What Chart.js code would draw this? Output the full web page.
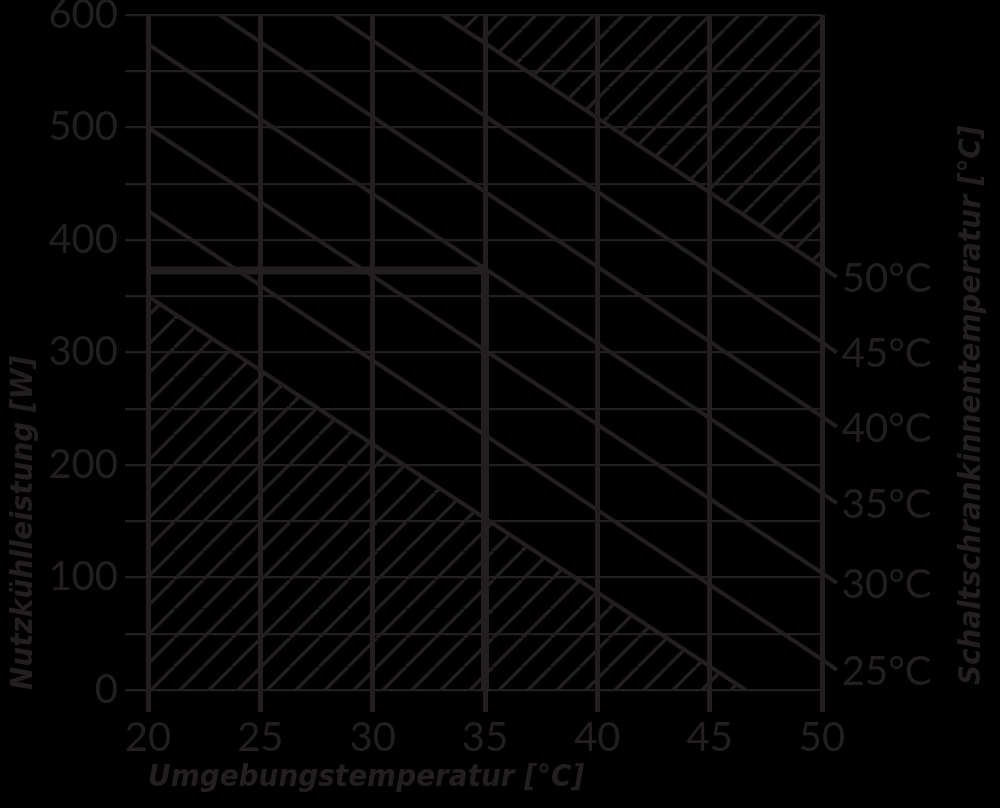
<!DOCTYPE html>
<html><head><meta charset="utf-8">
<script src="https://cdn.jsdelivr.net/npm/chart.js@4/dist/chart.umd.min.js"></script>
<style>html,body{margin:0;padding:0;background:#000;}canvas{display:block}</style>
</head><body>
<canvas id="c" width="1000" height="808"></canvas>
<script>
const INK = '#231f20';
// Schaltschrankinnentemperatur curves
const curveLabels = ['25°C', '30°C', '35°C', '40°C', '45°C', '50°C'];
const curveStartT = [20, 20, 20, 23.2, 28.3, 33.1];
const curveStartW = [426, 500, 574, 600, 600, 600];
const curveAxisW = [27, 104, 175, 243, 309, 376];      // at 50 °C ambient
const leaderT = 50.66;                                 // end of leader stub
const curveLeaderW = [18, 95, 166, 234, 300, 367];
// lower limit (hatched region below)
const lowerLimitT = [20, 46.6];
const lowerLimitW = [350, 0];
// reading example
const exampleT = 35;
const exampleW = 373;
// ticks
const xTicks = [20, 25, 30, 35, 40, 45, 50];
const yGrid = [0, 50, 100, 150, 200, 250, 300, 350, 400, 450, 500, 550, 600];
const yLabels = [0, 100, 200, 300, 400, 500, 600];

const canvas = document.getElementById('c');
const ctx = canvas.getContext('2d');

function makeHatch() {
  const s = 29;
  const t = document.createElement('canvas');
  t.width = s; t.height = s;
  const g = t.getContext('2d');
  g.strokeStyle = INK;
  g.lineWidth = 3.4;
  g.beginPath();
  for (const o of [-s, 0, s]) { g.moveTo(o, s); g.lineTo(o + s, 0); }
  g.stroke();
  return ctx.createPattern(t, 'repeat');
}
const hatch = makeHatch();

const datasets = [];
curveLabels.forEach((lab, i) => {
  datasets.push({
    label: lab,
    data: [
      {x: curveStartT[i], y: curveStartW[i]},
      {x: 50, y: curveAxisW[i]}
    ],
    borderColor: INK, borderWidth: 4.2, pointRadius: 0, fill: false,
    curveIndex: i
  });
});
datasets.push({
  label: 'lower',
  data: lowerLimitT.map((t, i) => ({x: t, y: lowerLimitW[i]})),
  borderColor: INK, borderWidth: 4.2, pointRadius: 0,
  fill: 'origin', backgroundColor: hatch
});
datasets.push({
  label: 'upper',
  data: [{x: curveStartT[5], y: curveStartW[5]}, {x: 50, y: curveAxisW[5]}],
  borderColor: INK, borderWidth: 0, pointRadius: 0,
  fill: 'end', backgroundColor: hatch
});
datasets.push({
  label: 'exampleH',
  data: [{x: xTicks[0], y: exampleW}, {x: exampleT, y: exampleW}],
  borderColor: INK, borderWidth: 8, pointRadius: 0, fill: false
});
datasets.push({
  label: 'exampleV',
  data: [{x: exampleT, y: exampleW}, {x: exampleT, y: 0}],
  borderColor: INK, borderWidth: 8, pointRadius: 0, fill: false
});

const TITLE_FAMILY = "'DejaVu Sans Condensed', 'DejaVu Sans', sans-serif";
const titleFont = {family: TITLE_FAMILY, size: 31, weight: 'bold', style: 'italic', lineHeight: 1.2};
const tickFont = {family: 'Lato, sans-serif', size: 40, lineHeight: 0.7};

const rightText = {
  id: 'rightText',
  afterDraw(chart) {
    const c = chart.ctx;
    const xs = chart.scales.x, ys = chart.scales.y;
    c.save();
    c.strokeStyle = INK;
    c.fillStyle = INK;
    c.lineWidth = 4.2;
    c.font = '40px Lato, sans-serif';
    c.textBaseline = 'middle';
    c.textAlign = 'left';
    curveLabels.forEach((lab, i) => {
      const x0 = xs.getPixelForValue(50), y0 = ys.getPixelForValue(curveAxisW[i]);
      const x1 = xs.getPixelForValue(leaderT), y1 = ys.getPixelForValue(curveLeaderW[i]);
      c.beginPath(); c.moveTo(x0, y0); c.lineTo(x1, y1); c.stroke();
      c.fillText(lab, x1 + 5, y1 + 2);
    });
    c.translate(972, chart.chartArea.bottom - 5);
    c.rotate(-Math.PI / 2);
    c.font = 'italic bold 31px ' + TITLE_FAMILY;
    c.textAlign = 'left';
    c.fillText('Schaltschrankinnentemperatur [°C]', 0, 0);
    c.restore();
  }
};

new Chart(ctx, {
  type: 'line',
  data: {datasets},
  options: {
    responsive: false,
    animation: false,
    events: [],
    layout: {padding: {top: 15, right: 178, bottom: 0, left: 0}},
    plugins: {legend: {display: false}, tooltip: {enabled: false}},
    elements: {line: {tension: 0}},
    scales: {
      x: {
        type: 'linear', min: 20, max: 50,
        afterBuildTicks: s => { s.ticks = xTicks.map(v => ({value: v})); },
        afterFit: s => { s.height = 118; s.paddingLeft = 0; s.paddingRight = 0; },
        grid: {color: INK, lineWidth: 5, tickLength: 22},
        border: {display: false},
        ticks: {color: INK, font: tickFont, padding: 12, maxRotation: 0},
        title: {display: true, text: 'Umgebungstemperatur [°C]', align: 'start', color: INK, font: titleFont, padding: {top: 0, bottom: 11}}
      },
      y: {
        type: 'linear', min: 0, max: 600,
        afterBuildTicks: s => { s.ticks = yGrid.map(v => ({value: v})); },
        afterFit: s => { s.width = 148; s.paddingTop = 0; s.paddingBottom = 0; },
        grid: {color: INK, lineWidth: 2.3, tickLength: 23},
        border: {display: false},
        ticks: {color: INK, font: tickFont, padding: 7, callback: v => yLabels.includes(v) ? String(v) : ''},
        title: {display: true, text: 'Nutzkühlleistung [W]', align: 'start', color: INK, font: titleFont, padding: {top: 5, bottom: 0}}
      }
    }
  },
  plugins: [rightText]
});
</script>
</body></html>
